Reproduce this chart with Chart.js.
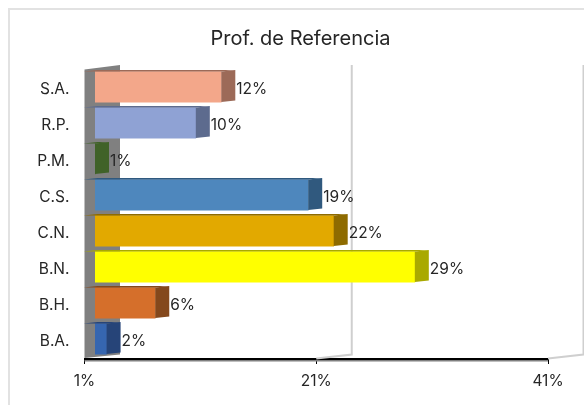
<!DOCTYPE html>
<html>
<head>
<meta charset="utf-8">
<script src="https://cdn.jsdelivr.net/npm/chart.js@4"></script>
<style>
body { margin: 0; background: #fff; }
#wrap { position: relative; width: 584px; height: 405px; overflow: hidden; }
#frame { position: absolute; left: 8px; top: 8px; width: 600px; height: 420px; border-left: 2px solid #e2e2e2; border-top: 2px solid #e2e2e2; }
canvas { position: absolute; left: 0; top: 0; }
</style>
</head>
<body>
<div id="wrap">
<div id="frame"></div>
<canvas id="chart" width="584" height="405"></canvas>
</div>
<script>
const categories = ['S.A.', 'R.P.', 'P.M.', 'C.S.', 'C.N.', 'B.N.', 'B.H.', 'B.A.'];
const values = [11.9, 9.7, 1, 19.4, 21.6, 28.6, 6.2, 2];
const xTicks = [1, 21, 41];
const frontColors = ['#f3a78a', '#8fa2d4', '#4a7030', '#4e87bd', '#e2a900', '#ffff00', '#d56f2b', '#3666b0'];
const sideColors = ['#9c6a58', '#5d6b8e', '#406228', '#30597e', '#8e6b00', '#a9a900', '#84481c', '#264478'];

const fontName = 'Inter, "Open Sans", sans-serif';
const textColor = '#262626';

// fake 3D look: bars sit a bit right of the axis start, walls lean back
const barShiftX = 10.5, barShiftY = -2.2, sideW = 14, sideH = 1.5;
const wallW = 35.5, wallH = 4.5;

const fake3d = {
    id: 'fake3d',
    // title is centred on the plot and labels, not on the canvas
    afterLayout(chart) {
        chart.titleBlock.left = 53;
    },
    beforeDatasetsDraw(chart) {
        const c = chart.ctx, x = chart.scales.x, a = chart.chartArea;
        const x0 = x.getPixelForValue(xTicks[0]);
        const wallTop = 69.5;
        c.save();
        c.fillStyle = '#808080';
        c.beginPath();
        c.moveTo(x0, wallTop);
        c.lineTo(x0 + wallW, wallTop - wallH);
        c.lineTo(x0 + wallW, a.bottom - wallH);
        c.lineTo(x0, a.bottom - 1);
        c.fill();
        c.fillRect(x0, a.bottom + 1, x.getPixelForValue(xTicks[2]) - x0, 1.5);
        c.strokeStyle = '#cfcfcf';
        c.lineWidth = 2;
        xTicks.slice(1).forEach(t => {
            const px = x.getPixelForValue(t);
            c.beginPath();
            c.moveTo(px, a.bottom - 0.5);
            c.lineTo(px + wallW, a.bottom - wallH);
            c.lineTo(px + wallW, wallTop - wallH);
            c.stroke();
        });
        c.restore();
        c.save();
        c.translate(barShiftX, barShiftY);
    },
    afterDatasetsDraw(chart) {
        const c = chart.ctx;
        c.restore();
        c.save();
        chart.getDatasetMeta(0).data.forEach((bar, i) => {
            const p = bar.getProps(['x', 'y', 'height', 'base'], true);
            const left = p.base + barShiftX, right = p.x + barShiftX;
            const top = p.y - p.height / 2 + barShiftY, bot = p.y + p.height / 2 + barShiftY;
            c.fillStyle = sideColors[i];
            c.beginPath();
            c.moveTo(left, top);
            c.lineTo(left + sideW, top - sideH);
            c.lineTo(right + sideW, top - sideH);
            c.lineTo(right, top);
            c.fill();
            c.beginPath();
            c.moveTo(right, top);
            c.lineTo(right + sideW, top - sideH);
            c.lineTo(right + sideW, bot - sideH);
            c.lineTo(right, bot);
            c.fill();
            c.fillStyle = textColor;
            c.font = '15.5px ' + fontName;
            c.textAlign = 'left';
            c.textBaseline = 'middle';
            c.fillText(Math.round(values[i]) + '%', right + sideW + 1, p.y);
        });
        c.restore();
    }
};

new Chart(document.getElementById('chart').getContext('2d'), {
    type: 'bar',
    plugins: [fake3d],
    data: {
        labels: categories,
        datasets: [{
            data: values,
            backgroundColor: frontColors,
            barThickness: 30.5
        }]
    },
    options: {
        indexAxis: 'y',
        responsive: false,
        animation: false,
        layout: { padding: { left: 0, right: 36, top: 0, bottom: 0 } },
        plugins: {
            legend: { display: false },
            tooltip: { enabled: false },
            title: {
                display: true,
                text: 'Prof. de Referencia',
                color: textColor,
                font: { family: fontName, size: 20, weight: 'normal' },
                padding: { top: 27, bottom: 20 }
            }
        },
        scales: {
            x: {
                min: 1,
                max: 41,
                afterBuildTicks(axis) { axis.ticks = xTicks.map(v => ({ value: v })); },
                grid: { drawOnChartArea: false, color: '#000', tickLength: 5, tickColor: '#000' },
                border: { color: '#000', width: 2 },
                ticks: {
                    maxRotation: 0,
                    padding: 8,
                    color: textColor,
                    font: { family: fontName, size: 15.5 },
                    callback: v => v + '%'
                },
                afterFit(axis) { axis.height = 46; }
            },
            y: {
                grid: { display: false },
                border: { display: false },
                ticks: {
                    padding: 7,
                    color: textColor,
                    font: { family: fontName, size: 15.5 }
                },
                afterFit(axis) { axis.width = 84.5; }
            }
        }
    }
});
</script>
</body>
</html>
